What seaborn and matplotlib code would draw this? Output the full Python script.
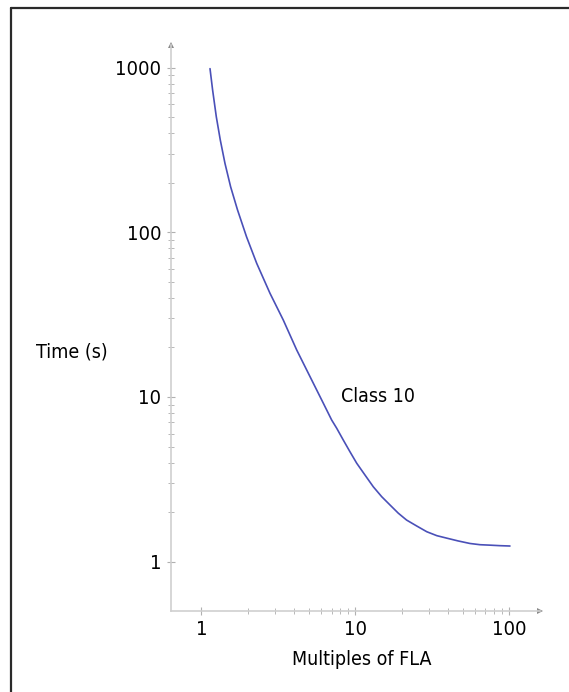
import numpy as np
import pandas as pd
import matplotlib
matplotlib.use("Agg")
import matplotlib.pyplot as plt
import matplotlib.ticker as mticker
from matplotlib.lines import Line2D
import seaborn as sns

# Trip curve (Class 10 overload relay)
multiples = [1.136, 1.181, 1.248, 1.325, 1.421, 1.546, 1.713, 1.961, 2.284, 2.787,
             3.401, 4.155, 5.07, 6.19, 7.01, 7.56, 8.34, 9.22, 10.2, 11.54,
             13.07, 14.83, 16.78, 19.0, 21.5, 25.0, 29.1, 33.8, 39.2, 46.6,
             55.5, 64.5, 74.9, 87.0, 101]
trip_time = [985, 731, 503, 363, 262, 189, 137, 94, 64.8, 42.6,
             29.3, 19.3, 13.3, 9.16, 7.25, 6.46, 5.48, 4.65, 3.96, 3.36,
             2.85, 2.48, 2.21, 1.97, 1.79, 1.648, 1.52, 1.439, 1.39, 1.336,
             1.29, 1.268, 1.26, 1.251, 1.245]
x_ticks = [1, 10, 100]
x_tick_labels = ["1", "10", "100"]
y_ticks = [1, 10, 100, 1000]
y_tick_labels = ["1", "10", "100", "1000"]

df = pd.DataFrame({"Multiples of FLA": multiples, "Time (s)": trip_time})

sns.set_theme(style="white")
plt.rcParams['font.family'] = ['DejaVu Sans']
plt.rcParams['font.stretch'] = 'condensed'

fig = plt.figure(figsize=(5.69, 6.92), dpi=100)
ax = fig.add_axes([170.5 / 569, (692 - 610.7) / 692, (540 - 170.5) / 569, (610.7 - 45) / 692])

sns.lineplot(data=df, x="Multiples of FLA", y="Time (s)", ax=ax,
             color="#4a50b8", linewidth=1.2, sort=True)

ax.set_xscale("log")
ax.set_yscale("log")
ax.set_xlim(0.629, 158.3)
ax.set_ylim(0.504, 1371)

ax.xaxis.set_major_locator(mticker.FixedLocator(x_ticks))
ax.xaxis.set_major_formatter(mticker.FixedFormatter(x_tick_labels))
ax.yaxis.set_major_locator(mticker.FixedLocator(y_ticks))
ax.yaxis.set_major_formatter(mticker.FixedFormatter(y_tick_labels))
ax.xaxis.set_minor_locator(mticker.FixedLocator([m * d for d in (1, 10) for m in range(2, 10)]))
ax.yaxis.set_minor_locator(mticker.FixedLocator([m * d for d in (1, 10, 100) for m in range(2, 10)]))
ax.xaxis.set_minor_formatter(mticker.NullFormatter())
ax.yaxis.set_minor_formatter(mticker.NullFormatter())

for side in ("top", "right"):
    ax.spines[side].set_visible(False)
for side in ("left", "bottom"):
    ax.spines[side].set_color("#cfcfcf")
    ax.spines[side].set_linewidth(1.2)

ax.tick_params(which="major", direction="inout", length=6, width=0.8, color="#b0b0b0",
               labelsize=14.5, labelcolor="black", pad=3.5, left=True, bottom=True)
ax.tick_params(which="minor", direction="inout", length=4, width=0.7, color="#b8b8b8",
               left=True, bottom=True)

# axis arrow heads
ax.plot(1, 0, ">", transform=ax.transAxes, clip_on=False, color="#8a8a8a", ms=5, mew=0)
ax.plot(0, 1, "^", transform=ax.transAxes, clip_on=False, color="#8a8a8a", ms=5, mew=0)

ax.set_xlabel("Multiples of FLA", fontsize=14, color="black")
ax.xaxis.set_label_coords((362 - 170.5) / 369.5, (610.7 - 650) / 565.7)
ax.xaxis.label.set_va("top")
ax.set_ylabel("Time (s)", fontsize=14, color="black", rotation=0, ha="right", va="center")
ax.yaxis.set_label_coords((108 - 170.5) / 369.5, (610.7 - 352) / 565.7)

ax.text(14, 10.1, "Class 10", fontsize=14, ha="center", va="center", color="black")

# frame lines at the left and top edges of the picture
fig.add_artist(Line2D([11 / 569, 11 / 569], [0, 1 - 8 / 692], transform=fig.transFigure,
                      color="#2a2a2a", lw=1.6))
fig.add_artist(Line2D([11 / 569, 1], [1 - 8 / 692, 1 - 8 / 692], transform=fig.transFigure,
                      color="#2a2a2a", lw=1.6))

fig.savefig("out.png", dpi=100, facecolor="white")
